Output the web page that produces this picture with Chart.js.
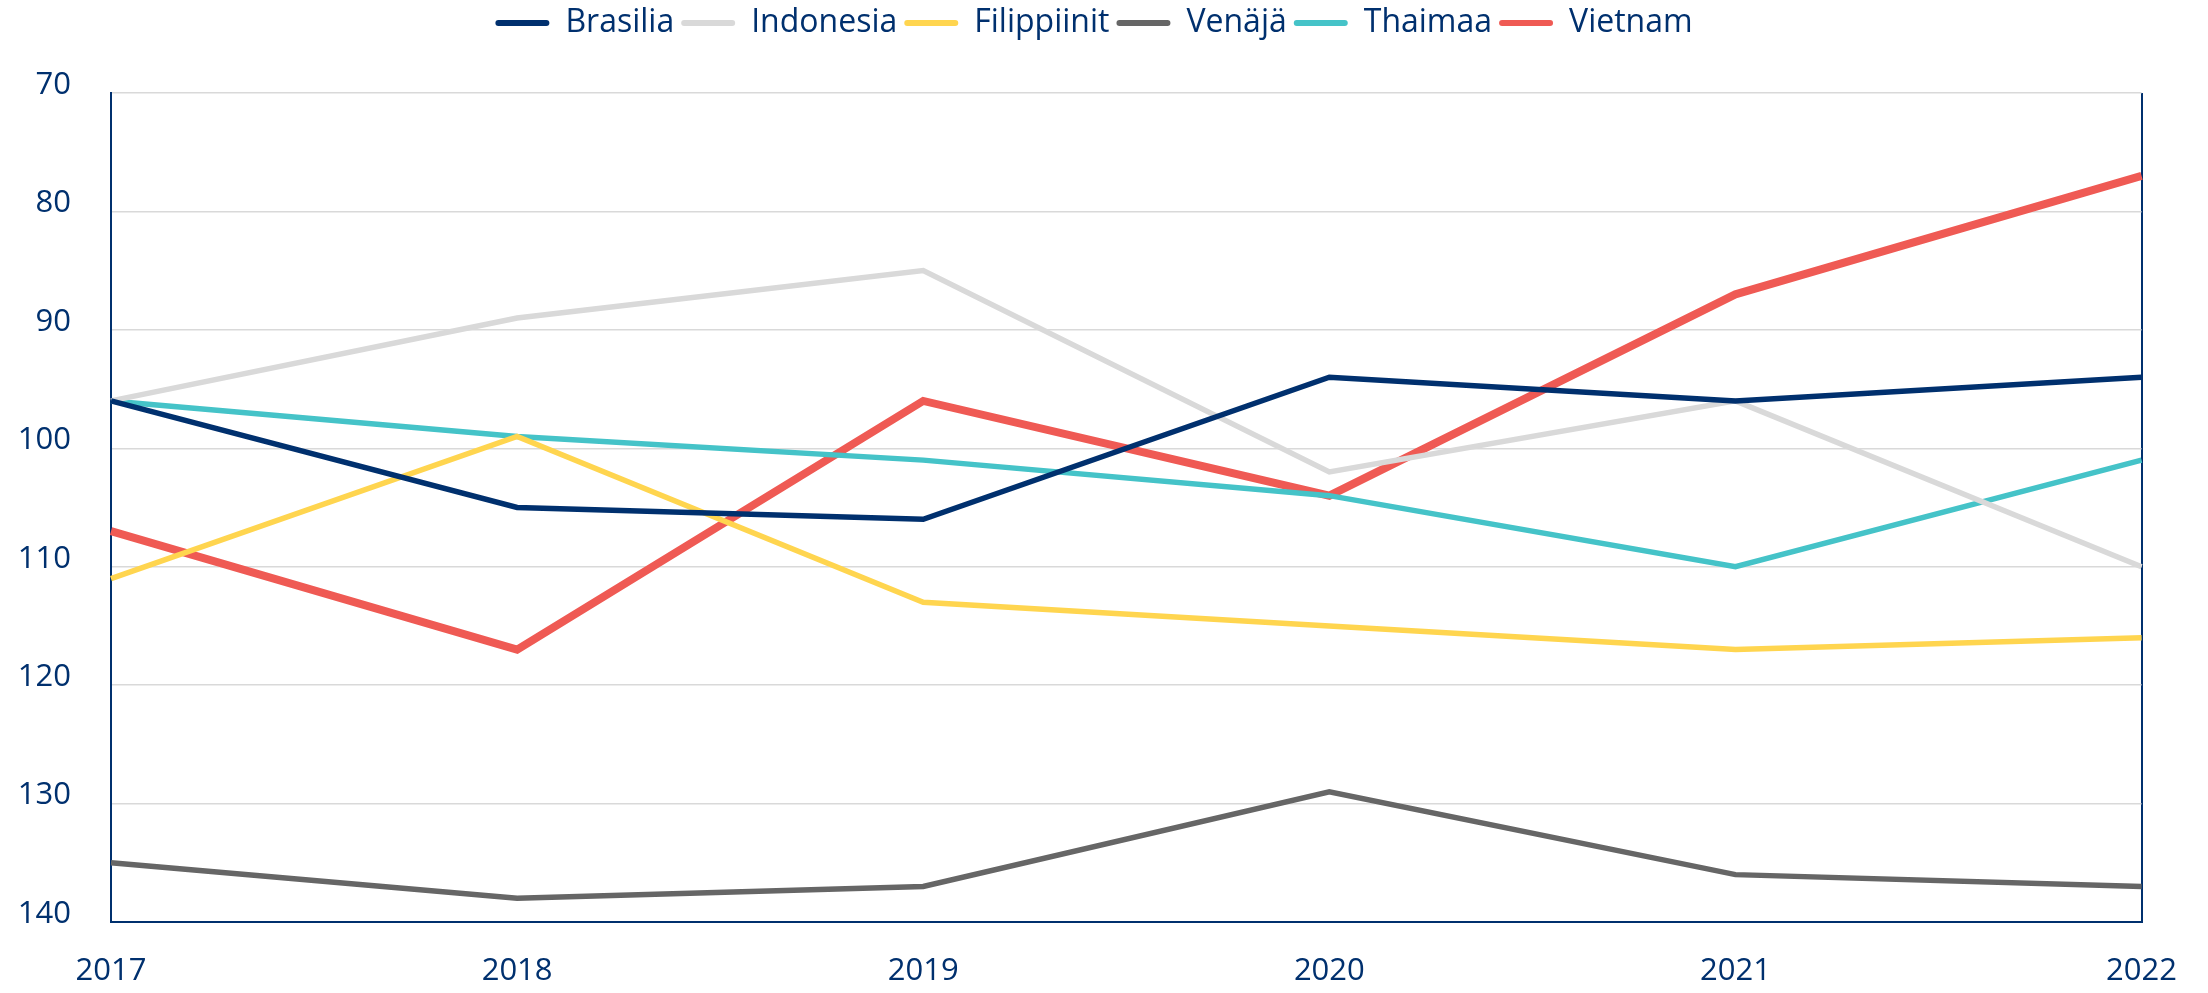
<!DOCTYPE html>
<html>
<head>
<meta charset="utf-8">
<script src="https://cdn.jsdelivr.net/npm/chart.js@4.4.1/dist/chart.umd.min.js"></script>
<style>
html,body{margin:0;padding:0;background:#fff;}
#wrap{width:2208px;height:993px;position:relative;}
</style>
</head>
<body>
<div id="wrap"><canvas id="c"></canvas></div>
<script>
const years = ["2017","2018","2019","2020","2021","2022"];
const brasilia    = [96, 105, 106, 94, 96, 94];
const indonesia   = [96, 89, 85, 102, 96, 110];
const filippiinit = [111, 99, 113, 115, 117, 116];
const venaja      = [135, 138, 137, 129, 136, 137];
const thaimaa     = [96, 99, 101, 104, 110, 101];
const vietnam     = [107, 117, 96, 104, 87, 77];
const yTicks = [70, 80, 90, 100, 110, 120, 130, 140];

const NAVY = '#00306e';
const FONT = "'Open Sans', sans-serif";

function ds(label, data, color, width) {
  return { label, data, borderColor: color, backgroundColor: color, borderWidth: width,
           pointRadius: 0, pointHoverRadius: 0, tension: 0, fill: false };
}

const legendSpace = {
  id: 'legendSpace',
  beforeInit(chart) {
    const orig = chart.legend.fit;
    chart.legend.fit = function () {
      orig.call(this);
      this.height = 93;
    };
  }
};

new Chart(document.getElementById('c'), {
  type: 'line',
  data: {
    labels: years,
    datasets: [
      ds('Brasilia', brasilia, '#00306e', 5.5),
      ds('Indonesia', indonesia, '#d9d9d9', 5.5),
      ds('Filippiinit', filippiinit, '#ffd54f', 5.5),
      ds('Venäjä', venaja, '#666666', 5.5),
      ds('Thaimaa', thaimaa, '#45c3c8', 5.5),
      ds('Vietnam', vietnam, '#ef5a54', 8)
    ]
  },
  plugins: [legendSpace],
  options: {
    responsive: true,
    maintainAspectRatio: false,
    animation: false,
    layout: { padding: { left: 20, right: 40, top: 0, bottom: 0 } },
    plugins: {
      tooltip: { enabled: false },
      legend: {
        position: 'top',
        align: 'center',
        labels: {
          color: NAVY,
          font: { family: FONT, size: 32 },
          boxWidth: 54,
          boxHeight: 6,
          padding: 7,
          useBorderRadius: true,
          borderRadius: 3,
          generateLabels(chart) {
            const items = Chart.defaults.plugins.legend.labels.generateLabels(chart);
            items.forEach(it => { it.lineWidth = 0; it.strokeStyle = 'transparent'; });
            return items;
          }
        }
      }
    },
    scales: {
      x: {
        type: 'category',
        offset: false,
        afterFit(axis) { axis.height = 71; },
        grid: {
          drawTicks: false,
          color: ctx => ctx.index === years.length - 1 ? NAVY : 'rgba(0,0,0,0)',
          lineWidth: 2
        },
        border: { display: true, color: NAVY, width: 2 },
        ticks: { color: NAVY, font: { family: FONT, size: 31 }, padding: 31, maxRotation: 0, autoSkip: false }
      },
      y: {
        reverse: true,
        min: 70,
        max: 140,
        afterFit(axis) { axis.width = 91; },
        afterBuildTicks(axis) { axis.ticks = yTicks.map(v => ({ value: v })); },
        grid: { drawTicks: false, color: '#d9d9d9', lineWidth: 1.5 },
        border: { display: true, color: NAVY, width: 2 },
        ticks: { color: NAVY, font: { family: FONT, size: 31 }, padding: 40, labelOffset: -8 }
      }
    }
  }
});
</script>
</body>
</html>
